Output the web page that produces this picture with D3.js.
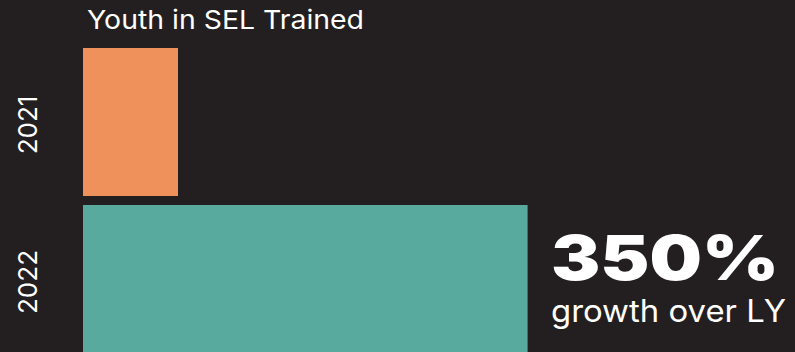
<!DOCTYPE html>
<html>
<head>
<meta charset="utf-8">
<script src="https://cdn.jsdelivr.net/npm/d3@7"></script>
<style>
  html, body { margin: 0; padding: 0; background: #231f20; }
  svg { display: block; }
</style>
</head>
<body>
<svg id="chart" width="795" height="352"></svg>
<script>
// Youth trained in social-emotional learning, by year
const years = ["2021", "2022"];
const youthTrained = [1000, 4680];
const barColors = ["#ee915a", "#58aa9f"];
const titleText = "Youth in SEL Trained";
const growthValue = "350%";
const growthText = "growth over LY";

const width = 795, height = 352;
const margin = { top: 48, left: 83 };
const font = "Inter, 'Liberation Sans', sans-serif";

const svg = d3.select("#chart");
svg.append("rect").attr("width", width).attr("height", height).attr("fill", "#231f20");

// Horizontal value scale; bars start at the left margin
const x = d3.scaleLinear().domain([0, 1000]).range([0, 95]);
const y = d3.scaleBand().domain(years).range([margin.top, 353]).paddingInner(0.0573).paddingOuter(0);

svg.selectAll("rect.bar")
  .data(years)
  .join("rect")
  .attr("class", "bar")
  .attr("x", margin.left)
  .attr("y", d => y(d))
  .attr("width", (d, i) => x(youthTrained[i]))
  .attr("height", y.bandwidth())
  .attr("fill", (d, i) => barColors[i]);

// Year labels, rotated along the left side of each bar
const gy = svg.append("g").attr("transform", "translate(37,0)")
  .call(d3.axisLeft(y).tickSize(0).tickPadding(0));
gy.select(".domain").remove();
gy.selectAll(".tick text").remove();
gy.selectAll(".tick").append("text")
  .attr("transform", "rotate(-90)")
  .attr("text-anchor", "middle")
  .attr("x", -3)
  .attr("y", 0)
  .attr("fill", "#ffffff")
  .style("font-family", font)
  .style("font-size", "26px")
  .text(d => d);

// Title
svg.append("text")
  .attr("x", 87)
  .attr("y", 29)
  .attr("fill", "#ffffff")
  .attr("textLength", 277)
  .attr("lengthAdjust", "spacingAndGlyphs")
  .style("font-family", font)
  .style("font-size", "26px")
  .text(titleText);

// Growth callout
svg.append("text")
  .attr("x", 551)
  .attr("y", 280)
  .attr("fill", "#ffffff")
  .attr("textLength", 228)
  .attr("lengthAdjust", "spacingAndGlyphs")
  .style("font-family", font)
  .style("font-weight", 900)
  .style("font-size", "62px")
  .text(growthValue);

svg.append("text")
  .attr("x", 551)
  .attr("y", 322)
  .attr("fill", "#ffffff")
  .attr("textLength", 235)
  .attr("lengthAdjust", "spacingAndGlyphs")
  .style("font-family", font)
  .style("font-size", "31px")
  .text(growthText);
</script>
</body>
</html>
